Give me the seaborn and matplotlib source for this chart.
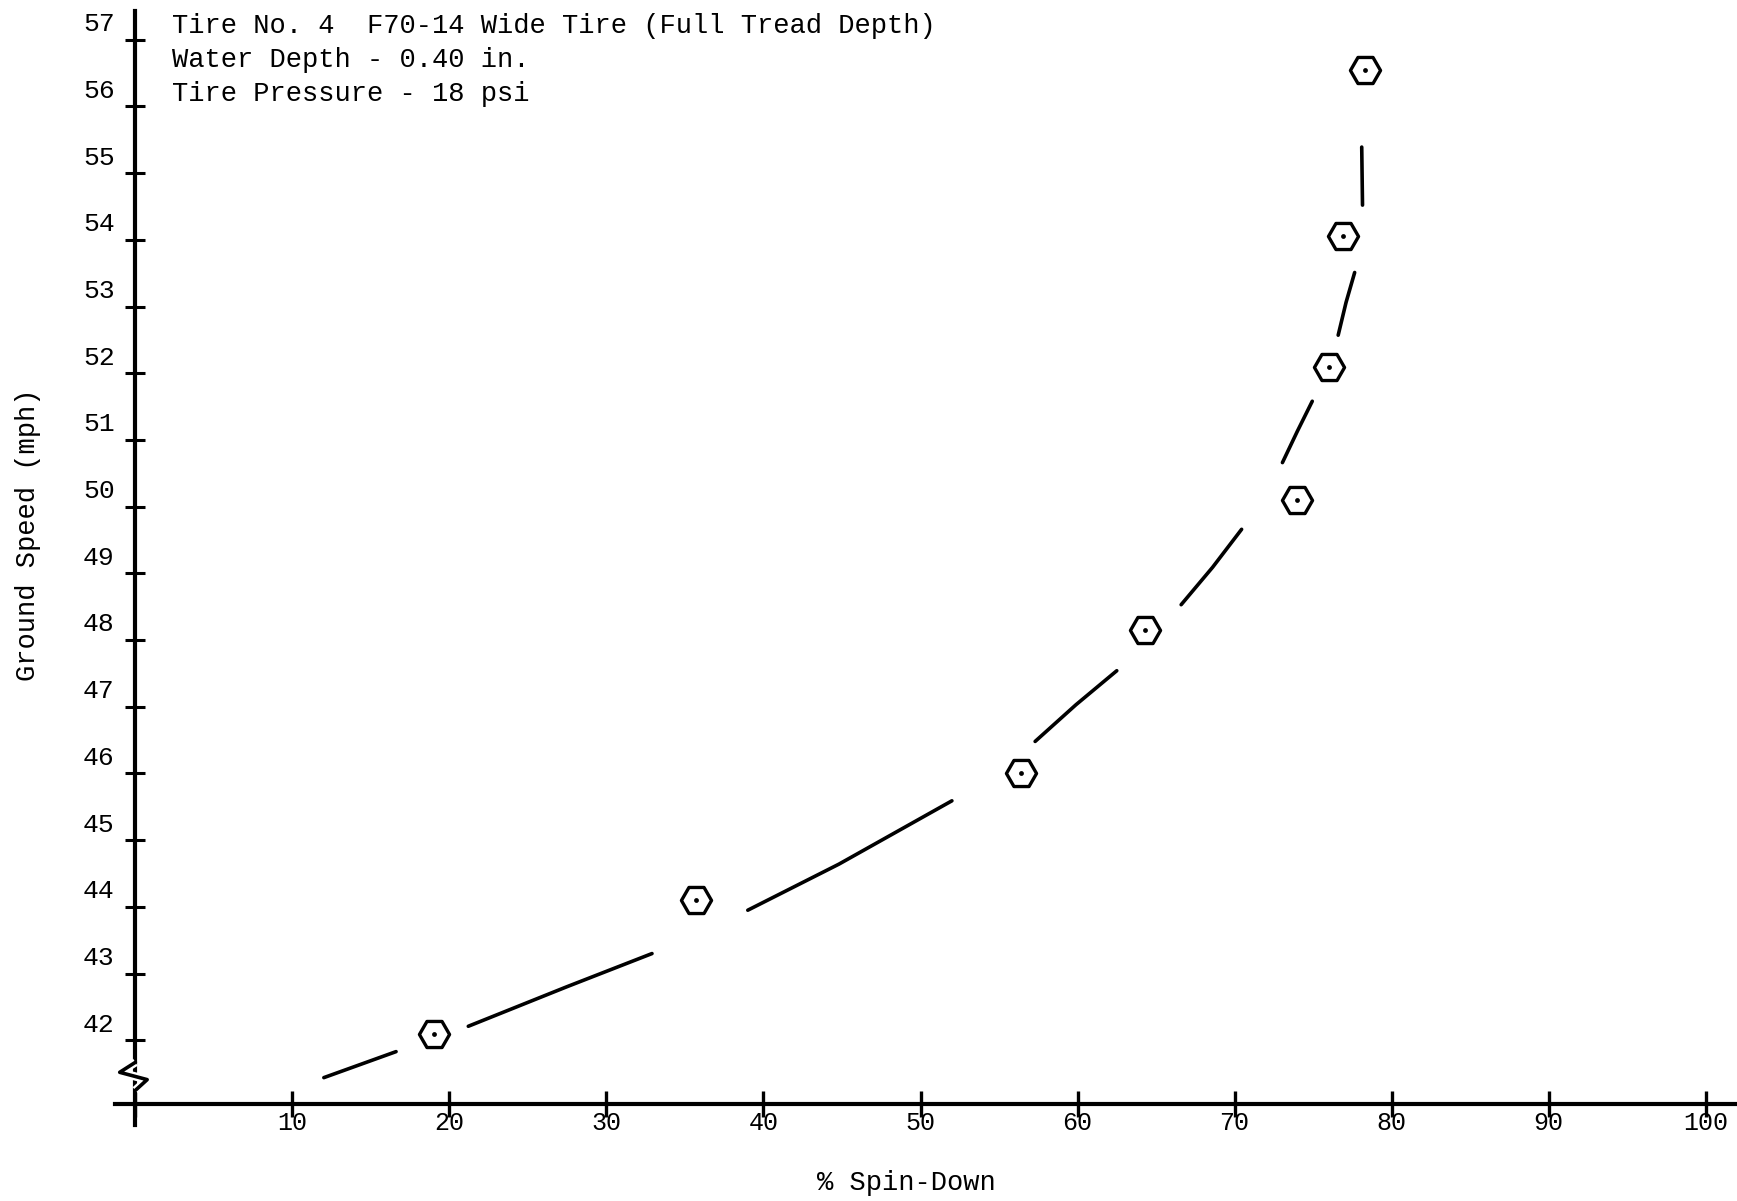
import numpy as np
import pandas as pd
import matplotlib
matplotlib.use("Agg")
import matplotlib.pyplot as plt
import matplotlib.transforms as mtransforms
import seaborn as sns

# Measured spin-down test points
spin_down = [19.0, 35.7, 56.4, 64.3, 74.0, 76.0, 76.9, 78.3]
ground_speed = [42.1, 44.1, 46.0, 48.15, 50.1, 52.1, 54.05, 56.55]

# Faired curve through the points, broken into the drawn segments
curve_x = [12.0, 16.6,
           21.2, 27.45, 32.9,
           39.0, 44.8, 52.0,
           57.3, 59.9, 62.5,
           66.6, 68.6, 70.45,
           73.05, 74.0, 74.95,
           76.6, 77.1, 77.65,
           78.15, 78.1]
curve_y = [41.44, 41.83,
           42.21, 42.80, 43.30,
           43.95, 44.64, 45.59,
           46.48, 47.03, 47.54,
           48.53, 49.09, 49.66,
           50.66, 51.13, 51.58,
           52.57, 53.06, 53.51,
           54.52, 55.39]
curve_seg = [0, 0,
             1, 1, 1,
             2, 2, 2,
             3, 3, 3,
             4, 4, 4,
             5, 5, 5,
             6, 6, 6,
             7, 7]

x_ticks = [0, 10, 20, 30, 40, 50, 60, 70, 80, 90, 100]
x_tick_labels = ["", "10", "20", "30", "40", "50", "60", "70", "80", "90", "100"]
y_ticks = list(range(42, 58))

title_lines = ["Tire No. 4  F70-14 Wide Tire (Full Tread Depth)",
               "Water Depth - 0.40 in.",
               "Tire Pressure - 18 psi"]

sns.set_theme(style="white")
plt.rcParams["font.family"] = ["Liberation Mono", "DejaVu Sans Mono"]

W, H = 1737, 1201
fig = plt.figure(figsize=(W / 100, H / 100), dpi=100)
ax = fig.add_axes([115 / W, 1 - 1125 / H, (W - 115) / W, (1125 - 11) / H])

points = pd.DataFrame({"spin": spin_down, "speed": ground_speed})
curve = pd.DataFrame({"spin": curve_x, "speed": curve_y, "seg": curve_seg})

sns.lineplot(data=curve, x="spin", y="speed", units="seg", estimator=None,
             sort=False, color="black", linewidth=2.6, ax=ax, legend=False)
sns.scatterplot(data=points, x="spin", y="speed", marker="H", s=470,
                facecolor="white", edgecolor="black", linewidth=2.4,
                ax=ax, zorder=5)
sns.scatterplot(data=points, x="spin", y="speed", marker="o", s=12,
                color="black", edgecolor="black", linewidth=0, ax=ax, zorder=6)

ax.set_xlim(-1.3, 102)
ax.set_ylim(40.73, 57.43)

# Axes drawn as crossing lines with through-ticks
for side in ("top", "right"):
    ax.spines[side].set_visible(False)
ax.spines["left"].set_position(("data", 0))
ax.spines["bottom"].set_position(("data", 41.05))
for side in ("left", "bottom"):
    ax.spines[side].set_linewidth(3.0)
    ax.spines[side].set_color("black")

ax.set_xticks(x_ticks)
ax.set_xticklabels(x_tick_labels)
ax.set_yticks(y_ticks)
ax.set_yticklabels([str(v) for v in y_ticks])
ax.tick_params(axis="x", direction="inout", length=19, width=2.4,
               pad=-4, labelsize=18, colors="black", bottom=True)
ax.tick_params(axis="y", direction="inout", length=14, width=2.2,
               pad=8, labelsize=19, colors="black", left=True)

shift_up = mtransforms.ScaledTranslation(0, 13 / 72, fig.dpi_scale_trans)
for lab in ax.get_yticklabels():
    lab.set_transform(lab.get_transform() + shift_up)

# Break symbol on the speed axis below 42 mph
zz_x = [0.0, -1.0, 0.75, 0.0]
zz_y = [41.67, 41.52, 41.41, 41.25]
ax.plot(zz_x, zz_y, color="white", linewidth=6, zorder=3, solid_capstyle="butt")
ax.plot(zz_x, zz_y, color="black", linewidth=2.6, zorder=4, clip_on=False)

ax.set_xlabel("% Spin-Down", fontsize=19.5, color="black")
ax.set_ylabel("Ground Speed (mph)", fontsize=19.5, color="black")
ax.xaxis.set_label_coords((906 - 115) / (W - 115), (1125 - 1183) / 1114)
ax.yaxis.set_label_coords((28 - 115) / (W - 115), (1125 - 535) / 1114)
ax.xaxis.label.set_va("center")
ax.yaxis.label.set_va("center")

for i, line in enumerate(title_lines):
    fig.text(172 / W, 1 - (33 + 34 * i) / H, line, fontsize=19.5,
             ha="left", va="baseline", color="black")

fig.savefig("out.png", dpi=100, facecolor="white")
